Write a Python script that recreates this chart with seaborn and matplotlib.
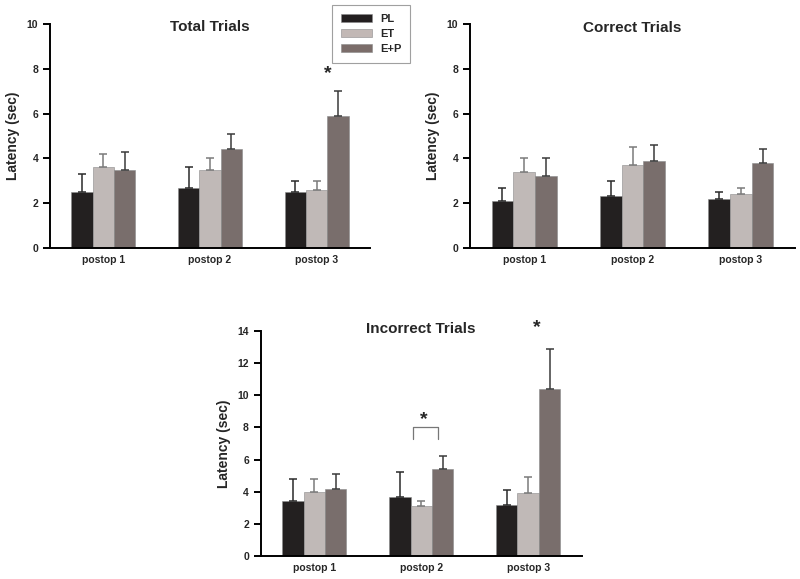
import numpy as np
import pandas as pd
import matplotlib
matplotlib.use('Agg')
import matplotlib.pyplot as plt
from matplotlib.patches import Patch
import seaborn as sns

# data
sessions = ['postop 1', 'postop 2', 'postop 3']
groups = ['PL', 'ET', 'E+P']
colors = ['#231f20', '#c2b8b5', '#7b6d6a']
err_colors = ['#2a2a2a', '#7a7a7a', '#3a3a3a']

total_pl = [2.5, 2.7, 2.5]
total_et = [3.6, 3.5, 2.6]
total_ep = [3.5, 4.4, 5.9]
total_pl_err = [0.8, 0.9, 0.5]
total_et_err = [0.6, 0.5, 0.4]
total_ep_err = [0.8, 0.7, 1.1]

correct_pl = [2.1, 2.3, 2.2]
correct_et = [3.4, 3.7, 2.4]
correct_ep = [3.2, 3.9, 3.8]
correct_pl_err = [0.6, 0.7, 0.3]
correct_et_err = [0.6, 0.8, 0.3]
correct_ep_err = [0.8, 0.7, 0.6]

incorrect_pl = [3.4, 3.7, 3.2]
incorrect_et = [4.0, 3.1, 3.9]
incorrect_ep = [4.2, 5.4, 10.4]
incorrect_pl_err = [1.4, 1.5, 0.9]
incorrect_et_err = [0.8, 0.3, 1.0]
incorrect_ep_err = [0.9, 0.8, 2.5]

sns.set_style('white')
plt.rcParams['font.family'] = ['Liberation Sans', 'DejaVu Sans']

fig = plt.figure(figsize=(8, 5.79), dpi=100)


def make_panel(rect, title, means, errs, ymax, yticks, title_pad):
    ax = fig.add_axes(rect)
    df = pd.DataFrame({
        'session': np.tile(sessions, 3),
        'group': np.repeat(groups, 3),
        'latency': np.concatenate(means),
    })
    sns.barplot(data=df, x='session', y='latency', hue='group',
                hue_order=groups, palette=colors, errorbar=None,
                width=0.6, gap=0, edgecolor='#8a8a8a', linewidth=0.4,
                legend=False, ax=ax)
    # upper-only error bars on top of each bar
    for cont, err, ec in zip(ax.containers, errs, err_colors):
        xs = [b.get_x() + b.get_width() / 2 for b in cont]
        hs = [b.get_height() for b in cont]
        ax.errorbar(xs, hs, yerr=[np.zeros(len(err)), err], fmt='none',
                    ecolor=ec, elinewidth=1.1, capsize=3, capthick=1.1)
    ax.set_xlim(-0.5, 2.5)
    ax.set_ylim(0, ymax)
    ax.set_yticks(yticks)
    ax.set_xlabel('')
    ax.set_ylabel('Latency (sec)', fontsize=10, fontweight='bold', labelpad=5)
    ax.set_title(title, fontsize=11, fontweight='bold', pad=title_pad)
    for s in ['top', 'right']:
        ax.spines[s].set_visible(False)
    for s in ['left', 'bottom']:
        ax.spines[s].set_color('black')
        ax.spines[s].set_linewidth(1.4)
    ax.tick_params(axis='y', which='major', direction='out', length=5,
                   width=1.4, left=True, labelsize=7.5, color='black')
    ax.tick_params(axis='x', length=0, labelsize=7.5, pad=5)
    for lab in ax.get_xticklabels() + ax.get_yticklabels():
        lab.set_fontweight('bold')
    return ax


ax1 = make_panel([0.0625, 0.5717, 0.40, 0.3869], 'Total Trials',
                 [total_pl, total_et, total_ep],
                 [total_pl_err, total_et_err, total_ep_err], 10, range(0, 11, 2), -5)
ax2 = make_panel([0.5875, 0.5717, 0.40625, 0.3869], 'Correct Trials',
                 [correct_pl, correct_et, correct_ep],
                 [correct_pl_err, correct_et_err, correct_ep_err], 10, range(0, 11, 2), -6)
ax3 = make_panel([0.326, 0.0397, 0.401, 0.3886], 'Incorrect Trials',
                 [incorrect_pl, incorrect_et, incorrect_ep],
                 [incorrect_pl_err, incorrect_et_err, incorrect_ep_err], 14, range(0, 15, 2), -1.5)

# significance marks
ax1.text(2.1, 7.8, '*', ha='center', va='center', fontsize=14, fontweight='bold')
ax3.text(2.08, 14.2, '*', ha='center', va='center', fontsize=14, fontweight='bold',
         clip_on=False)
ax3.text(1.02, 8.5, '*', ha='center', va='center', fontsize=14, fontweight='bold')
ax3.plot([0.92, 0.92, 1.16, 1.16], [7.3, 8.0, 8.0, 7.3], color='#777777', lw=0.9)

# legend box
handles = [Patch(facecolor=c, edgecolor='#8a8a8a', linewidth=0.4) for c in colors]
leg = fig.legend(handles, groups, loc='upper left',
                 bbox_to_anchor=(332 / 800, 1 - 5 / 579), borderaxespad=0,
                 frameon=True, fancybox=False, edgecolor='#888888', fontsize=8,
                 handlelength=2.8, handleheight=0.6, labelspacing=0.45,
                 borderpad=0.8, handletextpad=0.7)
leg.get_frame().set_linewidth(0.8)
for t in leg.get_texts():
    t.set_fontweight('bold')

fig.savefig('out.png', dpi=100)
